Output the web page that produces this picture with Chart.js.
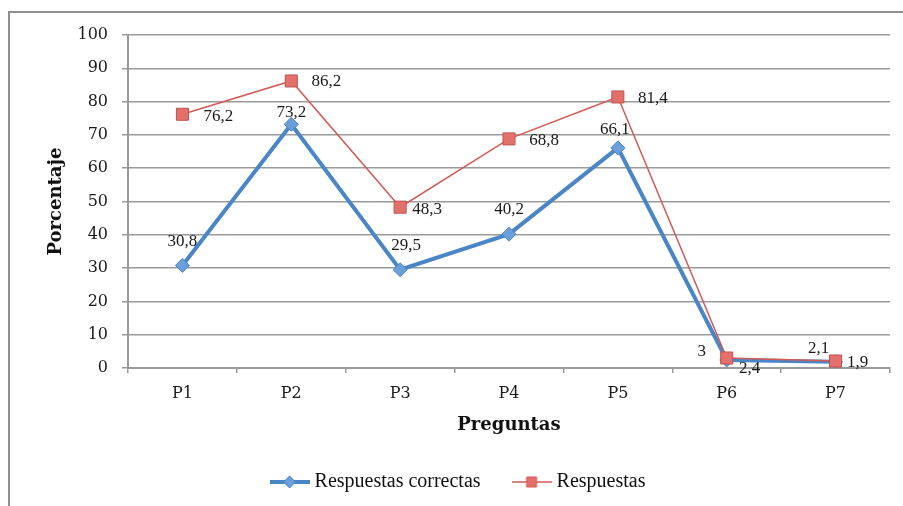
<!DOCTYPE html>
<html>
<head>
<meta charset="utf-8">
<script src="https://cdn.jsdelivr.net/npm/chart.js@4.4.1/dist/chart.umd.min.js"></script>
<style>
    html, body { margin: 0; padding: 0; background: #fff; overflow: hidden; }
    #wrap { position: relative; width: 903px; height: 506px; }
    #frame {
        position: absolute; left: 8px; top: 11px; width: 1000px; height: 600px;
        border-left: 2px solid #8e8e8e; border-top: 2px solid #8e8e8e;
    }
    canvas { position: absolute; left: 0; top: 0; }
</style>
</head>
<body>
<div id="wrap">
    <div id="frame"></div>
    <canvas id="chart" width="903" height="506"></canvas>
</div>
<script>
const categories = ["P1", "P2", "P3", "P4", "P5", "P6", "P7"];
const correctas = [30.8, 73.2, 29.5, 40.2, 66.1, 2.4, 1.9];
const respuestas = [76.2, 86.2, 48.3, 68.8, 81.4, 3, 2.1];
const yTicks = [0, 10, 20, 30, 40, 50, 60, 70, 80, 90, 100];

// label offsets (px) from each point, as placed in the original
const correctasLabelOffsets = [[0, -24], [0, -12], [6, -24], [0, -25], [-3, -18], [23, 9], [22, 1]];
const respuestasLabelOffsets = [[36, 2], [35, 1], [27, 2], [35, 2], [35, 2], [-25, -6], [-17, -12]];

const BLUE = "#4a86c6";
const BLUE_FILL = "#6b9fdc";
const RED = "#d45a55";
const RED_FILL = "#e4706c";
const GRID = "#9a9a9a";
const TICK_FONT = { family: "DejaVu Serif", size: 16 };
const LABEL_FONT = "17px 'Liberation Serif'";

function legendSample(color, fill, lineWidth, shape) {
    const c = document.createElement("canvas");
    c.width = 40;
    c.height = 16;
    const g = c.getContext("2d");
    g.strokeStyle = color;
    g.lineWidth = lineWidth;
    g.beginPath();
    g.moveTo(0, 8);
    g.lineTo(40, 8);
    g.stroke();
    g.fillStyle = fill;
    g.lineWidth = 1;
    g.beginPath();
    if (shape === "diamond") {
        g.moveTo(20, 2); g.lineTo(26, 8); g.lineTo(20, 14); g.lineTo(14, 8);
        g.closePath();
    } else {
        g.rect(15, 3, 10, 10);
    }
    g.fill();
    g.stroke();
    return c;
}

const valueLabels = {
    id: "valueLabels",
    afterDatasetsDraw(chart) {
        const ctx = chart.ctx;
        const offsets = [correctasLabelOffsets, respuestasLabelOffsets];
        ctx.save();
        ctx.font = LABEL_FONT;
        ctx.fillStyle = "#1a1a1a";
        ctx.textAlign = "center";
        ctx.textBaseline = "middle";
        chart.data.datasets.forEach((ds, di) => {
            const meta = chart.getDatasetMeta(di);
            meta.data.forEach((pt, i) => {
                const [dx, dy] = offsets[di][i];
                const txt = String(ds.data[i]).replace(".", ",");
                ctx.fillText(txt, pt.x + dx, pt.y + dy);
            });
        });
        ctx.restore();
    },
};

const ctx = document.getElementById("chart").getContext("2d");
new Chart(ctx, {
    type: "line",
    data: {
        labels: categories,
        datasets: [
            {
                label: "Respuestas correctas",
                data: correctas,
                borderColor: BLUE,
                backgroundColor: BLUE_FILL,
                borderWidth: 4,
                pointStyle: "rectRot",
                pointRadius: 7,
                pointBorderWidth: 1,
                pointBorderColor: BLUE,
                pointBackgroundColor: BLUE_FILL,
                tension: 0,
                order: 1,
            },
            {
                label: "Respuestas",
                data: respuestas,
                borderColor: RED,
                backgroundColor: RED_FILL,
                borderWidth: 1.5,
                pointStyle: "rect",
                pointRadius: 8.5,
                pointBorderWidth: 1,
                pointBorderColor: "#c0504d",
                pointBackgroundColor: RED_FILL,
                tension: 0,
                order: 0,
            },
        ],
    },
    options: {
        responsive: false,
        animation: false,
        devicePixelRatio: 1,
        layout: { padding: { top: 35, right: 13, bottom: 4, left: 30 } },
        plugins: {
            tooltip: { enabled: false },
            legend: {
                position: "bottom",
                labels: {
                    usePointStyle: true,
                    pointStyleWidth: 30,
                    padding: 36,
                    color: "#111",
                    font: { family: "Liberation Serif", size: 20 },
                    generateLabels(chart) {
                        const samples = [
                            legendSample(BLUE, BLUE_FILL, 4, "diamond"),
                            legendSample(RED, RED_FILL, 1.5, "square"),
                        ];
                        return chart.data.datasets.map((ds, i) => ({
                            text: ds.label,
                            pointStyle: samples[i],
                            fillStyle: ds.backgroundColor,
                            strokeStyle: ds.borderColor,
                            lineWidth: 0,
                            hidden: false,
                            datasetIndex: i,
                            fontColor: "#111",
                        }));
                    },
                },
            },
        },
        scales: {
            x: {
                offset: true,
                afterFit(scale) { scale.height = 68; },
                grid: {
                    offset: true,
                    drawOnChartArea: false,
                    drawTicks: true,
                    tickLength: 5,
                    color: GRID,
                    lineWidth: 1.5,
                },
                border: { color: GRID, width: 2 },
                ticks: { color: "#1a1a1a", font: TICK_FONT, padding: 11, maxRotation: 0 },
                title: {
                    display: true,
                    text: "Preguntas",
                    color: "#111",
                    font: { family: "DejaVu Serif", size: 18, weight: "bold" },
                    padding: { top: 0, bottom: 0 },
                },
            },
            y: {
                min: yTicks[0],
                max: yTicks[yTicks.length - 1],
                afterFit(scale) { scale.width = 98; },
                afterBuildTicks(scale) { scale.ticks = yTicks.map((v) => ({ value: v })); },
                grid: {
                    drawTicks: true,
                    tickLength: 6,
                    color: GRID,
                    lineWidth: 1.5,
                },
                border: { color: GRID, width: 2 },
                ticks: { color: "#1a1a1a", font: TICK_FONT, padding: 14 },
                title: {
                    display: true,
                    text: "Porcentaje",
                    color: "#111",
                    font: { family: "DejaVu Serif", size: 18, weight: "bold" },
                    padding: { top: 16, bottom: 0 },
                },
            },
        },
    },
    plugins: [valueLabels],
});
</script>
</body>
</html>
